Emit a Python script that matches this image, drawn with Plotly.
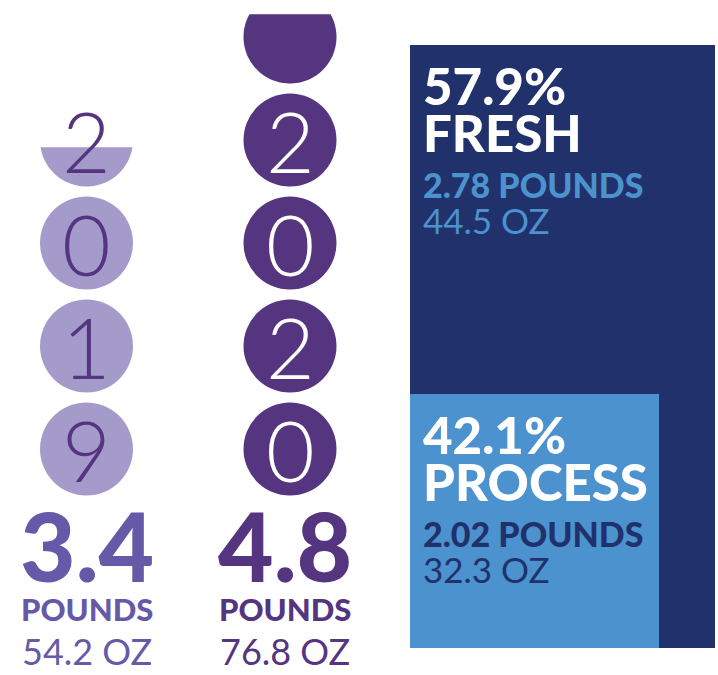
import numpy as np
import plotly.graph_objects as go

# ---------------- data ----------------
years = ["2019", "2020"]
total_pounds = [3.4, 4.8]
total_oz = [54.2, 76.8]

segments = ["FRESH", "PROCESS"]
segment_pounds = [2.78, 2.02]
segment_oz = [44.5, 32.3]
segment_pct = [57.9, 42.1]

# ---------------- styles ----------------
circle_fill = ["#a49bca", "#553580"]
digit_color = ["#553580", "#ffffff"]
label_color = ["#665aa8", "#553580"]
label_xshift = [0, -5]
seg_fill = ["#21316b", "#4b92cf"]
seg_sub_color = ["#4b92cf", "#21316b"]
FONT = "Lato"

W, H = 718, 675
# left panel geometry (pixel scale helpers)
px_per_x = 203.5
px_per_y = 103.0
rx = 46.5 / px_per_x
ry = 46.5 / px_per_y

fig = go.Figure()
shapes = []
annotations = []


def seg_height_for_area(frac):
    """height (fraction of diameter) of a circular segment holding `frac` of the area"""
    lo, hi = 0.0, 1.0
    for _ in range(60):
        mid = (lo + hi) / 2
        th = 2 * np.arccos(1 - 2 * mid)
        a = (th - np.sin(th)) / (2 * np.pi)
        if a < frac:
            lo = mid
        else:
            hi = mid
    return (lo + hi) / 2


for i, (yr, val) in enumerate(zip(years, total_pounds)):
    n_full = int(np.floor(val))
    frac = val - n_full
    for k in range(n_full):
        cy = k + 0.5
        shapes.append(dict(type="circle", xref="x", yref="y",
                           x0=i - rx, x1=i + rx, y0=cy - ry, y1=cy + ry,
                           fillcolor=circle_fill[i], line=dict(width=0), layer="below"))
    if frac > 1e-9:
        cy = n_full + 0.5
        h = seg_height_for_area(frac)
        s = 2 * h - 1
        t = np.linspace(np.pi - np.arcsin(s), 2 * np.pi + np.arcsin(s), 80)
        xs = i + rx * np.cos(t)
        ys = cy + ry * np.sin(t)
        path = "M " + " L ".join(f"{x:.5f},{y:.5f}" for x, y in zip(xs, ys)) + " Z"
        shapes.append(dict(type="path", xref="x", yref="y", path=path,
                           fillcolor=circle_fill[i], line=dict(width=0), layer="below"))
    # year digits, top digit in 4th circle
    for d, ch in enumerate(yr):
        annotations.append(dict(x=i, y=(len(yr) - 1 - d) + 0.5, xref="x", yref="y",
                                text=ch, showarrow=False, xanchor="center", yanchor="middle",
                                font=dict(family=FONT, size=84, color=digit_color[i], weight=300)))
    annotations.append(dict(x=i, y=-0.43, xref="x", yref="y", text=f"{val:.1f}",
                            showarrow=False, xanchor="center", yanchor="middle",
                            xshift=label_xshift[i],
                            font=dict(family=FONT, size=96, color=label_color[i], weight=900)))
    annotations.append(dict(x=i, y=-1.05, xref="x", yref="y", text="POUNDS",
                            showarrow=False, xanchor="center", yanchor="middle",
                            xshift=label_xshift[i],
                            font=dict(family=FONT, size=31, color=label_color[i], weight=900)))
    annotations.append(dict(x=i, y=-1.46, xref="x", yref="y", text=f"{total_oz[i]:.1f} OZ",
                            showarrow=False, xanchor="center", yanchor="middle",
                            xshift=label_xshift[i],
                            font=dict(family=FONT, size=36, color=label_color[i], weight=400)))

# invisible trace to register left axes
fig.add_trace(go.Scatter(x=[0, 1], y=[0, 0], mode="markers", marker=dict(opacity=0),
                         hoverinfo="skip", showlegend=False, xaxis="x", yaxis="y"))

# ---------------- right panel: stacked share bar ----------------
total_seg = sum(segment_pounds)
proc_w = 0.816
fig.add_trace(go.Bar(x=[0.5], y=[total_seg], width=[1.0], marker=dict(color=seg_fill[0], line=dict(width=0)),
                     xaxis="x2", yaxis="y2", showlegend=False, hoverinfo="skip", name=segments[0]))
fig.add_trace(go.Bar(x=[proc_w / 2], y=[segment_pounds[1]], width=[proc_w],
                     marker=dict(color=seg_fill[1], line=dict(width=0)),
                     xaxis="x2", yaxis="y2", showlegend=False, hoverinfo="skip", name=segments[1]))

tops = [total_seg, segment_pounds[1]]
for j, seg in enumerate(segments):
    base = dict(x=0, y=tops[j], xref="x2", yref="y2", showarrow=False,
                xanchor="left", yanchor="middle", xshift=11)
    annotations.append(dict(base, text=f"{segment_pct[j]:.1f}%", yshift=-40,
                            font=dict(family=FONT, size=51, color="#ffffff", weight=900)))
    annotations.append(dict(base, text=seg, yshift=-87,
                            font=dict(family=FONT, size=51, color="#ffffff", weight=900)))
    annotations.append(dict(base, text=f"{segment_pounds[j]:.2f} POUNDS", yshift=-139,
                            font=dict(family=FONT, size=34, color=seg_sub_color[j], weight=900)))
    annotations.append(dict(base, text=f"{segment_oz[j]:.1f} OZ", yshift=-175,
                            font=dict(family=FONT, size=35, color=seg_sub_color[j], weight=400)))

fig.update_layout(
    width=W, height=H, margin=dict(l=0, r=0, t=0, b=0),
    paper_bgcolor="white", plot_bgcolor="white",
    barmode="overlay", bargap=0,
    shapes=shapes, annotations=annotations, showlegend=False,
    xaxis=dict(domain=[0, 400 / W], range=[-86.5 / px_per_x, (400 - 86.5) / px_per_x],
               visible=False, fixedrange=True),
    yaxis=dict(domain=[0, 1], range=[(500.5 - H) / px_per_y, 500.5 / px_per_y],
               visible=False, fixedrange=True),
    xaxis2=dict(domain=[410 / W, 715 / W], range=[0, 1], anchor="y2", visible=False, fixedrange=True),
    yaxis2=dict(domain=[27 / H, 630 / H], range=[0, total_seg], anchor="x2", visible=False, fixedrange=True),
)

fig.write_html("out.html", config={"displayModeBar": False, "staticPlot": True},
               post_script="document.body.style.margin='0';document.body.style.overflow='hidden';")
